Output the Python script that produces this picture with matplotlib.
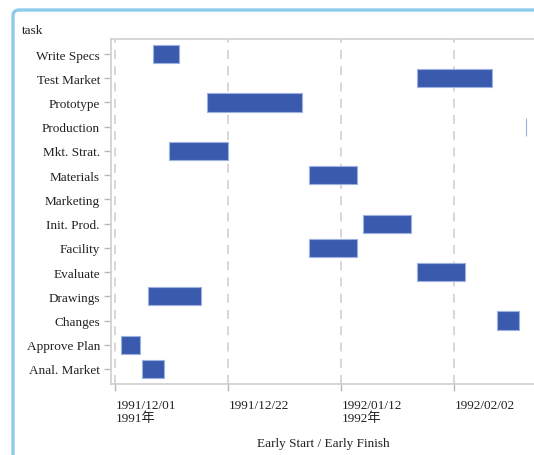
import matplotlib
matplotlib.use("Agg")
import matplotlib.pyplot as plt
import matplotlib.dates as mdates
from matplotlib.path import Path
from matplotlib.patches import PathPatch
import pandas as pd

plt.rcParams['font.family'] = ['Liberation Serif', 'Noto Sans CJK TC']

# tasks, bottom row first
tasks = ['Anal. Market', 'Approve Plan', 'Changes', 'Drawings', 'Evaluate',
         'Facility', 'Init. Prod.', 'Marketing', 'Materials', 'Mkt. Strat.',
         'Production', 'Prototype', 'Test Market', 'Write Specs']
early_start = ['1991-12-06', '1991-12-02', '1992-02-10', '1991-12-07', '1992-01-26',
               '1992-01-06', '1992-01-16', None, '1992-01-06', '1991-12-11',
               '1992-02-15 06:00', '1991-12-18', '1992-01-26', '1991-12-08']
early_finish = ['1991-12-10', '1991-12-05 15:00', '1992-02-14', '1991-12-17', '1992-02-04',
                '1992-01-15', '1992-01-25', None, '1992-01-15', '1991-12-22',
                '1992-02-15 06:00', '1992-01-04 18:00', '1992-02-08 22:00', '1991-12-12 20:00']
tick_dates = ['1991-12-01', '1991-12-22', '1992-01-12', '1992-02-02']
tick_labels = ['1991/12/01\n1991年', '1991/12/22', '1992/01/12\n1992年', '1992/02/02']

start = pd.to_datetime(early_start, format='mixed')
finish = pd.to_datetime(early_finish, format='mixed')

fig = plt.figure(figsize=(5.34, 4.56), dpi=100)
ax = fig.add_axes([111 / 534, 1 - 385 / 456, 424 / 534, 345 / 456])

for i, (s, f) in enumerate(zip(start, finish)):
    if pd.isna(s):
        continue
    left = mdates.date2num(s)
    ax.barh(i, mdates.date2num(f) - left, left=left, height=0.75,
            color='#3A5AAD', edgecolor='#9DB0E2', linewidth=0.8, zorder=3)

x0 = mdates.date2num(pd.Timestamp('1991-12-01'))
ax.set_xlim(x0 - 0.8, x0 + 78.0)
ax.set_ylim(-0.62, len(tasks) - 1 + 0.62)

ax.set_yticks(range(len(tasks)))
ax.set_yticklabels(tasks, fontsize=9.5)
ax.set_xticks(mdates.date2num(pd.to_datetime(tick_dates)))
ax.set_xticklabels(tick_labels, fontsize=9.5, ha='left', va='top', linespacing=1.05)

ax.grid(axis='x', color='#d4d4d4', linestyle=(0, (5, 4)), linewidth=1.3, zorder=0)
ax.tick_params(axis='both', color='#b8b8b8', length=5, width=1, labelcolor='#222222')
ax.tick_params(axis='x', pad=6)
ax.tick_params(axis='y', pad=3)
for side in ['left', 'top', 'bottom']:
    ax.spines[side].set_color('#cfcfcf')
    ax.spines[side].set_linewidth(1.2)
ax.spines['right'].set_visible(False)

ax.set_xlabel('Early Start / Early Finish', fontsize=9.5, color='#222222', labelpad=9)
fig.text(22 / 534, 1 - 31 / 456, 'task', fontsize=9.5, color='#222222',
         ha='left', va='center')

# outer frame: left and top edges with a rounded corner, open to the right and bottom
W, H = 534, 456
fx, fy, r = 13, 11, 6
verts = [((fx) / W, -0.05), (fx / W, 1 - (fy + r) / H), (fx / W, 1 - fy / H),
         ((fx + r) / W, 1 - fy / H), (1.05, 1 - fy / H)]
codes = [Path.MOVETO, Path.LINETO, Path.CURVE3, Path.CURVE3, Path.LINETO]
fig.add_artist(PathPatch(Path(verts, codes), transform=fig.transFigure,
                         facecolor='none', edgecolor='#8CCBEB', linewidth=2.4))

fig.savefig('out.png', dpi=100)
